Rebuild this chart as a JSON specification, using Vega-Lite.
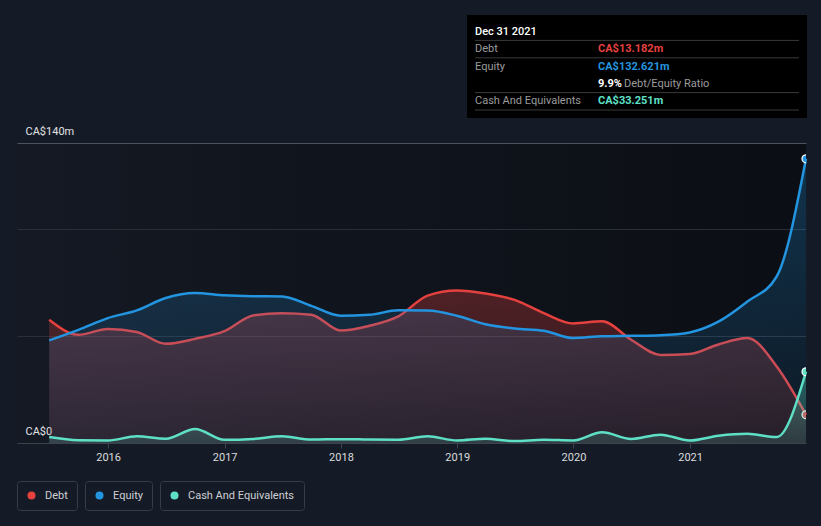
{
  "$schema": "https://vega.github.io/schema/vega-lite/v6.json",
  "background": "#151b26",
  "padding": {"left": 16, "top": 15, "right": 15, "bottom": 18},
  "bounds": "flush",
  "spacing": 120,
  "config": {
    "font": "Roboto",
    "view": {"stroke": null},
    "legend": {
      "orient": "bottom",
      "direction": "horizontal",
      "padding": 9,
      "strokeColor": "#383e48",
      "cornerRadius": 3,
      "symbolType": "circle",
      "symbolSize": 64,
      "symbolStrokeWidth": 0,
      "labelColor": "#cdd0d4",
      "labelFontSize": 11,
      "labelOffset": 8,
      "offset": 19
    }
  },
  "vconcat": [
    {
      "bounds": "flush",
      "spacing": 0,
      "hconcat": [
        {
          "width": 458,
          "height": 87,
          "data": {"values": [{"k": ""}]},
          "mark": {"type": "text"},
          "encoding": {"text": {"field": "k"}}
        },
        {
          "width": 324,
          "height": 87,
          "view": {"fill": "#000000", "stroke": "#000000", "strokeWidth": 16},
          "data": {
            "values": [
              {"item": "header", "label": "Dec 31 2021", "value": "", "note": ""},
              {"item": "Debt", "label": "Debt", "value": "CA$13.182m", "note": ""},
              {"item": "Equity", "label": "Equity", "value": "CA$132.621m", "note": ""},
              {"item": "Ratio", "label": "", "value": "9.9%", "note": "Debt/Equity Ratio"},
              {"item": "Cash", "label": "Cash And Equivalents", "value": "CA$33.251m", "note": ""}
            ]
          },
          "layer": [
            {
              "transform": [{"filter": "datum.item != 'Equity'"}],
              "mark": {"type": "rule", "color": "#3a3a3a", "strokeWidth": 1},
              "encoding": {
                "y": {"field": "item", "type": "nominal", "bandPosition": 1, "axis": null,
                  "scale": {"type": "band", "domain": ["header", "Debt", "Equity", "Ratio", "Cash"], "paddingInner": 0, "paddingOuter": 0}}
              }
            },
            {
              "transform": [{"filter": "datum.item == 'header'"}],
              "mark": {"type": "text", "align": "left", "baseline": "middle", "fontSize": 11, "fontWeight": 500, "color": "#ffffff"},
              "encoding": {
                "y": {"field": "item", "type": "nominal", "bandPosition": 0.5, "axis": null},
                "x": {"datum": "label", "type": "nominal", "axis": null,
                  "scale": {"type": "point", "domain": ["label", "value"], "padding": 0.817, "align": 0}},
                "text": {"field": "label"}
              }
            },
            {
              "transform": [{"filter": "datum.item != 'header'"}],
              "mark": {"type": "text", "align": "left", "baseline": "middle", "fontSize": 11, "color": "#9b9b9b"},
              "encoding": {
                "y": {"field": "item", "type": "nominal", "bandPosition": 0.5, "axis": null},
                "x": {"datum": "label", "type": "nominal", "axis": null},
                "text": {"field": "label"}
              }
            },
            {
              "transform": [{"filter": "datum.item != 'header'"}],
              "mark": {"type": "text", "align": "left", "baseline": "middle", "fontSize": 11, "fontWeight": "bold"},
              "encoding": {
                "y": {"field": "item", "type": "nominal", "bandPosition": 0.5, "axis": null},
                "x": {"datum": "value", "type": "nominal", "axis": null},
                "text": {"field": "value"},
                "color": {"field": "item", "type": "nominal", "legend": null,
                  "scale": {"domain": ["Debt", "Equity", "Ratio", "Cash"], "range": ["#e5413f", "#2394df", "#ffffff", "#5ee0c7"]}}
              }
            },
            {
              "transform": [{"filter": "datum.item == 'Ratio'"}],
              "mark": {"type": "text", "align": "left", "baseline": "middle", "fontSize": 11, "color": "#9b9b9b", "dx": 26},
              "encoding": {
                "y": {"field": "item", "type": "nominal", "bandPosition": 0.5, "axis": null},
                "x": {"datum": "value", "type": "nominal", "axis": null},
                "text": {"field": "note"}
              }
            }
          ]
        }
      ]
    },
    {
      "width": 789,
      "height": 300,
      "view": {
        "stroke": null,
        "fill": {"gradient": "linear", "x1": 0, "y1": 0, "x2": 1, "y2": 0,
          "stops": [{"offset": 0, "color": "#141923"}, {"offset": 1, "color": "#0b0e14"}]}
      },
      "data": {
        "values": [
          {"date": "2015-06-30", "debt": 57.5, "equity": 47.9, "cash": 2.8},
          {"date": "2015-09-30", "debt": 50.5, "equity": 52.8, "cash": 1.3},
          {"date": "2015-12-31", "debt": 53.2, "equity": 58.3, "cash": 1.2},
          {"date": "2016-03-31", "debt": 51.8, "equity": 61.9, "cash": 3.1},
          {"date": "2016-06-30", "debt": 46.3, "equity": 67.7, "cash": 2.0},
          {"date": "2016-09-30", "debt": 48.6, "equity": 70.0, "cash": 6.5},
          {"date": "2016-12-31", "debt": 52.2, "equity": 68.9, "cash": 1.5},
          {"date": "2017-03-31", "debt": 59.5, "equity": 68.5, "cash": 1.9},
          {"date": "2017-06-30", "debt": 60.6, "equity": 68.4, "cash": 3.1},
          {"date": "2017-09-30", "debt": 59.9, "equity": 64.0, "cash": 1.6},
          {"date": "2017-12-31", "debt": 52.5, "equity": 59.4, "cash": 1.8},
          {"date": "2018-03-31", "debt": 54.7, "equity": 59.8, "cash": 1.6},
          {"date": "2018-06-30", "debt": 59.1, "equity": 61.9, "cash": 1.5},
          {"date": "2018-09-30", "debt": 68.8, "equity": 61.8, "cash": 3.1},
          {"date": "2018-12-31", "debt": 71.2, "equity": 59.4, "cash": 1.2},
          {"date": "2019-03-31", "debt": 69.8, "equity": 55.4, "cash": 2.0},
          {"date": "2019-06-30", "debt": 66.8, "equity": 53.4, "cash": 0.9},
          {"date": "2019-09-30", "debt": 60.6, "equity": 52.4, "cash": 1.5},
          {"date": "2019-12-31", "debt": 55.8, "equity": 49.0, "cash": 1.2},
          {"date": "2020-03-31", "debt": 56.8, "equity": 49.8, "cash": 5.0},
          {"date": "2020-06-30", "debt": 48.2, "equity": 50.0, "cash": 1.9},
          {"date": "2020-09-30", "debt": 41.1, "equity": 50.3, "cash": 3.9},
          {"date": "2020-12-31", "debt": 41.5, "equity": 51.6, "cash": 1.2},
          {"date": "2021-03-31", "debt": 46.0, "equity": 56.6, "cash": 3.4},
          {"date": "2021-06-30", "debt": 49.0, "equity": 66.0, "cash": 4.3},
          {"date": "2021-09-30", "debt": 35.7, "equity": 77.7, "cash": 2.8},
          {"date": "2021-12-31", "debt": 13.182, "equity": 132.621, "cash": 33.251}
        ]
      },
      "transform": [{"fold": ["debt", "equity", "cash"], "as": ["series", "value"]}],
      "encoding": {
        "x": {
          "field": "date", "type": "temporal",
          "scale": {"domain": [{"year": 2015, "month": 3, "date": 21}, {"year": 2021, "month": 12, "date": 31}]},
          "axis": {"title": null, "format": "%Y", "tickCount": {"interval": "year", "step": 1}, "grid": false,
            "domainColor": "#3d434d", "tickColor": "#3d434d", "tickSize": 5, "labelPadding": 3,
            "labelColor": "#d9dbde", "labelFontSize": 11, "labelFlush": false, "labelOverlap": false}
        },
        "y": {
          "field": "value", "type": "quantitative",
          "scale": {"domain": [0, 140], "nice": false},
          "axis": {"title": null, "values": [0, 50, 100, 140],
            "labelExpr": "datum.value == 140 ? 'CA$140m' : (datum.value == 0 ? 'CA$0' : '')",
            "grid": true,
            "gridColor": {"condition": {"test": "datum.value == 140", "value": "#4d525b"}, "value": "#2a2e36"},
            "domain": false, "ticks": false, "tickSize": 0, "labelAlign": "left", "labelPadding": -8,
            "labelBaseline": "bottom", "labelOffset": -7, "labelColor": "#e0e2e5", "labelFontSize": 11,
            "labelFlush": false, "labelOverlap": false}
        }
      },
      "layer": [
        {
          "transform": [{"filter": "datum.series == 'debt'"}],
          "layer": [
            {"mark": {"type": "area", "interpolate": "monotone",
              "fill": {"gradient": "linear", "x1": 0, "y1": 0, "x2": 0, "y2": 1,
                "stops": [{"offset": 0, "color": "rgba(229,65,63,0.30)"}, {"offset": 1, "color": "rgba(229,65,63,0.12)"}]}}},
            {"mark": {"type": "line", "interpolate": "monotone", "color": "#e5413f", "strokeWidth": 2.5}},
            {"transform": [{"filter": "utcyear(datum.date) == 2021 && utcmonth(datum.date) == 11"}],
              "mark": {"type": "point", "filled": true, "color": "#ffffff", "opacity": 1, "size": 85, "clip": true}},
            {"transform": [{"filter": "utcyear(datum.date) == 2021 && utcmonth(datum.date) == 11"}],
              "mark": {"type": "point", "filled": true, "opacity": 1, "size": 45, "clip": true},
              "encoding": {"color": {"datum": "Debt", "type": "nominal", "scale": {"range": ["#e5413f"]}, "legend": {"title": null}}}}
          ]
        },
        {
          "transform": [{"filter": "datum.series == 'equity'"}],
          "layer": [
            {"mark": {"type": "area", "interpolate": "monotone",
              "fill": {"gradient": "linear", "x1": 0, "y1": 0, "x2": 0, "y2": 1,
                "stops": [{"offset": 0, "color": "rgba(35,148,223,0.28)"}, {"offset": 1, "color": "rgba(35,148,223,0.08)"}]}}},
            {"mark": {"type": "line", "interpolate": "monotone", "color": "#2394df", "strokeWidth": 2.5}},
            {"transform": [{"filter": "utcyear(datum.date) == 2021 && utcmonth(datum.date) == 11"}],
              "mark": {"type": "point", "filled": true, "color": "#ffffff", "opacity": 1, "size": 85, "clip": true}},
            {"transform": [{"filter": "utcyear(datum.date) == 2021 && utcmonth(datum.date) == 11"}],
              "mark": {"type": "point", "filled": true, "opacity": 1, "size": 45, "clip": true},
              "encoding": {"color": {"datum": "Equity", "type": "nominal", "scale": {"range": ["#2394df"]}, "legend": {"title": null}}}}
          ]
        },
        {
          "transform": [{"filter": "datum.series == 'cash'"}],
          "layer": [
            {"mark": {"type": "area", "interpolate": "monotone",
              "fill": {"gradient": "linear", "x1": 0, "y1": 0, "x2": 0, "y2": 1,
                "stops": [{"offset": 0, "color": "rgba(94,224,199,0.35)"}, {"offset": 1, "color": "rgba(94,224,199,0.15)"}]}}},
            {"mark": {"type": "line", "interpolate": "monotone", "color": "#5ee0c7", "strokeWidth": 2.5}},
            {"transform": [{"filter": "utcyear(datum.date) == 2021 && utcmonth(datum.date) == 11"}],
              "mark": {"type": "point", "filled": true, "color": "#ffffff", "opacity": 1, "size": 85, "clip": true}},
            {"transform": [{"filter": "utcyear(datum.date) == 2021 && utcmonth(datum.date) == 11"}],
              "mark": {"type": "point", "filled": true, "opacity": 1, "size": 45, "clip": true},
              "encoding": {"color": {"datum": "Cash And Equivalents", "type": "nominal", "scale": {"range": ["#5ee0c7"]}, "legend": {"title": null}}}}
          ]
        }
      ],
      "resolve": {"scale": {"color": "independent"}}
    }
  ]
}
